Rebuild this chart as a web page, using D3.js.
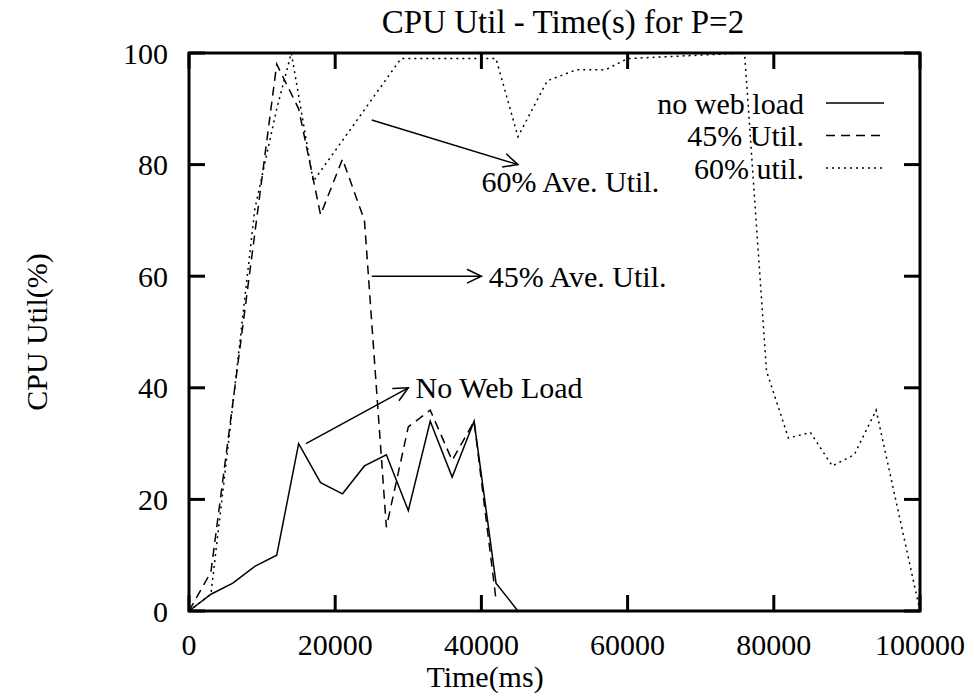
<!DOCTYPE html>
<html>
<head>
<meta charset="utf-8">
<script src="https://cdn.jsdelivr.net/npm/d3@7"></script>
<style>
  body { margin: 0; background: #fff; }
  text { font-family: "Liberation Serif", "Times New Roman", serif; fill: #000; }
</style>
</head>
<body>
<div id="chart"></div>
<script>
const width = 974, height = 696;
const margin = {top: 53, right: 54, bottom: 85, left: 189};

// time (ms) and CPU util (%) per run
const noLoadTime = [0, 3000, 6000, 9000, 12000, 15000, 18000, 21000, 24000, 27000, 30000, 33000, 36000, 39000, 42000, 45000];
const noLoadUtil = [0, 3, 5, 8, 10, 30, 23, 21, 26, 28, 18, 34, 24, 34, 5, 0];

const util45Time = [0, 3000, 12000, 15000, 18000, 21000, 24000, 27000, 30000, 33000, 36000, 39000, 42000];
const util45Util = [0, 7, 98, 90, 71, 81, 70, 15, 33, 36, 27, 34, 2];

const util60Time = [0, 3000, 6000, 9000, 12000, 14000, 17000, 29000, 42000, 45000, 49000, 53000, 57000, 60000, 76000, 79000, 82000, 85000, 88000, 91000, 94000, 100000];
const util60Util = [0, 3, 37, 72, 90, 100, 77, 99, 99, 85, 95, 97, 97, 99, 100, 43, 31, 32, 26, 28, 36, 0];

const seriesNames = ["no web load", "45% Util.", "60% util."];
const dashes = [null, "9,6", "2,4"];

const xTicks = [0, 20000, 40000, 60000, 80000, 100000];
const yTicks = [0, 20, 40, 60, 80, 100];

// annotations: arrow from -> to, label position (data coords)
const arrowFrom = [[25000, 88], [25000, 60], [16000, 30]];
const arrowTo = [[45000, 80], [40000, 60], [30000, 40]];
const labelText = ["60% Ave. Util.", "45% Ave. Util.", "No Web Load"];
const labelPos = [[40000, 77], [41000, 60], [31000, 40]];

const svg = d3.select("#chart").append("svg")
  .attr("width", width)
  .attr("height", height);

const x = d3.scaleLinear().domain([0, 100000]).range([margin.left, width - margin.right]);
const y = d3.scaleLinear().domain([0, 100]).range([height - margin.bottom, margin.top]);

const fs = 30;

// ticks (inward, mirrored)
const tickLen = 16;
const g = svg.append("g").attr("stroke", "#000").attr("stroke-width", 3);
xTicks.forEach(t => {
  g.append("line").attr("x1", x(t)).attr("x2", x(t)).attr("y1", y(0)).attr("y2", y(0) - tickLen);
  g.append("line").attr("x1", x(t)).attr("x2", x(t)).attr("y1", y(100)).attr("y2", y(100) + tickLen);
});
yTicks.forEach(t => {
  g.append("line").attr("y1", y(t)).attr("y2", y(t)).attr("x1", x(0)).attr("x2", x(0) + tickLen);
  g.append("line").attr("y1", y(t)).attr("y2", y(t)).attr("x1", x(100000)).attr("x2", x(100000) - tickLen);
});

svg.selectAll(".xlab").data(xTicks).enter().append("text")
  .attr("x", d => x(d)).attr("y", y(0) + 44)
  .attr("text-anchor", "middle").style("font-size", fs + "px")
  .text(d => d);
svg.selectAll(".ylab").data(yTicks).enter().append("text")
  .attr("x", x(0) - 21).attr("y", d => y(d)).attr("dy", "0.35em")
  .attr("text-anchor", "end").style("font-size", fs + "px")
  .text(d => d);

// data lines
const line = d3.line().x(d => x(d[0])).y(d => y(d[1]));
const series = [
  d3.zip(noLoadTime, noLoadUtil),
  d3.zip(util45Time, util45Util),
  d3.zip(util60Time, util60Util)
];
series.forEach((s, i) => {
  svg.append("path").datum(s)
    .attr("d", line)
    .attr("fill", "none").attr("stroke", "#000").attr("stroke-width", 1.5)
    .attr("stroke-dasharray", dashes[i]);
});

// arrows
const ag = svg.append("g").attr("stroke", "#000").attr("stroke-width", 1.5).attr("fill", "none");
arrowFrom.forEach((f, i) => {
  const x1 = x(f[0]), y1 = y(f[1]), x2 = x(arrowTo[i][0]), y2 = y(arrowTo[i][1]);
  ag.append("line").attr("x1", x1).attr("y1", y1).attr("x2", x2).attr("y2", y2);
  const ang = Math.atan2(y2 - y1, x2 - x1), hl = 16, ha = Math.PI / 7;
  ag.append("polyline").attr("points", [
    [x2 - hl * Math.cos(ang - ha), y2 - hl * Math.sin(ang - ha)],
    [x2, y2],
    [x2 - hl * Math.cos(ang + ha), y2 - hl * Math.sin(ang + ha)]
  ].map(p => p.join(",")).join(" "));
});
svg.selectAll(".ann").data(labelText).enter().append("text")
  .attr("x", (d, i) => x(labelPos[i][0])).attr("y", (d, i) => y(labelPos[i][1]))
  .attr("dy", "0.35em").style("font-size", fs + "px")
  .text(d => d);

// legend
const legY = 103, legStep = 32.5;
seriesNames.forEach((n, i) => {
  svg.append("text").attr("x", 804).attr("y", legY + i * legStep).attr("dy", "0.35em")
    .attr("text-anchor", "end").style("font-size", fs + "px").text(n);
  svg.append("line").attr("x1", 826).attr("x2", 884)
    .attr("y1", legY + i * legStep).attr("y2", legY + i * legStep)
    .attr("stroke", "#000").attr("stroke-width", 1.5).attr("stroke-dasharray", dashes[i]);
});

// frame
svg.append("rect")
  .attr("x", x(0)).attr("y", y(100))
  .attr("width", x(100000) - x(0)).attr("height", y(0) - y(100))
  .attr("fill", "none").attr("stroke", "#000").attr("stroke-width", 3);

// titles
svg.append("text").attr("x", 563).attr("y", 33)
  .attr("text-anchor", "middle").style("font-size", "33px")
  .text("CPU Util - Time(s) for P=2");
svg.append("text").attr("x", 485).attr("y", 687)
  .attr("text-anchor", "middle").style("font-size", fs + "px")
  .text("Time(ms)");
svg.append("text")
  .attr("transform", `translate(47,${(y(0) + y(100)) / 2}) rotate(-90)`)
  .attr("text-anchor", "middle").style("font-size", fs + "px")
  .text("CPU Util(%)");
</script>
</body>
</html>
